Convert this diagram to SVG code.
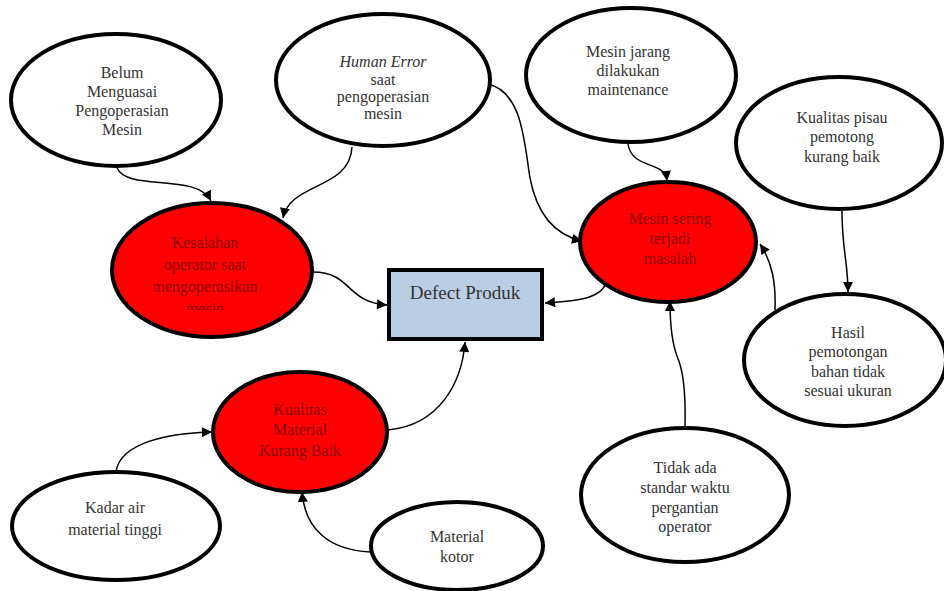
<svg xmlns="http://www.w3.org/2000/svg" width="944" height="591" viewBox="0 0 944 591">
<defs>
<marker id="arr" viewBox="0 0 10 10" refX="10" refY="5" markerWidth="11" markerHeight="10" markerUnits="userSpaceOnUse" orient="auto">
<path d="M0,0 L10,5 L0,10 z" fill="#000"/>
</marker>
<clipPath id="clipK"><rect x="100" y="190" width="230" height="120"/></clipPath>
</defs>
<style>
.n{fill:#fff;stroke:#000;stroke-width:4}
.r{fill:#ff0000;stroke:#000;stroke-width:4}
.t{font-family:"Liberation Serif","DejaVu Serif",serif;font-size:16px;fill:#333;text-anchor:middle}
.tr{font-family:"Liberation Serif","DejaVu Serif",serif;font-size:16px;fill:#8b0000;text-anchor:middle}
.c{fill:none;stroke:#000;stroke-width:1.5;marker-end:url(#arr)}
</style>
<rect width="944" height="591" fill="#fff"/>
<g id="connectors">
<path class="c" d="M117,168 C128,192 196,172 211,201"/>
<path class="c" d="M352,147 C350,190 290,182 283,218"/>
<path class="c" d="M488,84 C522,92 524,140 530,178 C538,220 560,236 582,241"/>
<path class="c" d="M628,144 C632,170 665,160 667,181"/>
<path class="c" d="M842,211 C842,250 848,262 848,292"/>
<path class="c" d="M775,310 C776,282 772,262 760,244"/>
<path class="c" d="M685,428 C686,385 682,368 677,356 C671,340 670,320 670,301"/>
<path class="c" d="M606,283 C600,300 572,301 545,303"/>
<path class="c" d="M313,272 C352,272 345,302 387,305"/>
<path class="c" d="M388,430 C440,425 462,382 465,342"/>
<path class="c" d="M116,472 C120,442 170,433 212,432"/>
<path class="c" d="M370,552 C330,550 305,530 302,492"/>
</g>
<g id="belum">
<ellipse class="n" cx="116" cy="100" rx="105" ry="66"/>
<text class="t" x="122" y="78">Belum</text>
<text class="t" x="122" y="97">Menguasai</text>
<text class="t" x="122" y="116">Pengoperasian</text>
<text class="t" x="122" y="135">Mesin</text>
</g>
<g id="human-error">
<ellipse class="n" cx="383" cy="80" rx="107" ry="66"/>
<text class="t" x="383" y="67" font-style="italic">Human Error</text>
<text class="t" x="383" y="85">saat</text>
<text class="t" x="383" y="102">pengoperasian</text>
<text class="t" x="383" y="119">mesin</text>
</g>
<g id="mesin-jarang">
<ellipse class="n" cx="631" cy="75" rx="105" ry="67"/>
<text class="t" x="628" y="57">Mesin jarang</text>
<text class="t" x="628" y="76">dilakukan</text>
<text class="t" x="628" y="95">maintenance</text>
</g>
<g id="kualitas-pisau">
<ellipse class="n" cx="839" cy="143" rx="103" ry="66"/>
<text class="t" x="842" y="123">Kualitas pisau</text>
<text class="t" x="842" y="142">pemotong</text>
<text class="t" x="842" y="162">kurang baik</text>
</g>
<g id="mesin-sering">
<ellipse class="r" cx="668" cy="242" rx="88" ry="60"/>
<text class="tr" x="670" y="224">Mesin sering</text>
<text class="tr" x="670" y="244">terjadi</text>
<text class="tr" x="670" y="264">masalah</text>
</g>
<g id="kesalahan">
<ellipse class="r" cx="212" cy="270" rx="100" ry="67"/>
<g clip-path="url(#clipK)">
<text class="tr" x="205" y="248">Kesalahan</text>
<text class="tr" x="205" y="270">operator saat</text>
<text class="tr" x="205" y="292">mengoperasikan</text>
<text class="tr" x="205" y="314">mesin</text>
</g>
</g>
<g id="defect">
<rect x="389" y="270" width="153" height="69" fill="#b9cde5" stroke="#000" stroke-width="4"/>
<text x="465" y="299" font-family="Liberation Serif, DejaVu Serif, serif" font-size="19" fill="#333" text-anchor="middle">Defect Produk</text>
</g>
<g id="kualitas-material">
<ellipse class="r" cx="300" cy="432" rx="87" ry="60"/>
<text class="tr" x="300" y="415">Kualitas</text>
<text class="tr" x="300" y="435">Material</text>
<text class="tr" x="300" y="456">Kurang Baik</text>
</g>
<g id="kadar-air">
<ellipse class="n" cx="116" cy="526" rx="104" ry="54"/>
<text class="t" x="115" y="513">Kadar air</text>
<text class="t" x="115" y="535">material tinggi</text>
</g>
<g id="material-kotor">
<ellipse class="n" cx="457" cy="546" rx="86" ry="44"/>
<text class="t" x="457" y="542">Material</text>
<text class="t" x="457" y="562">kotor</text>
</g>
<g id="hasil">
<ellipse class="n" cx="845" cy="360" rx="101" ry="66"/>
<text class="t" x="848" y="338">Hasil</text>
<text class="t" x="848" y="357">pemotongan</text>
<text class="t" x="848" y="377">bahan tidak</text>
<text class="t" x="848" y="396">sesuai ukuran</text>
</g>
<g id="tidak-ada">
<ellipse class="n" cx="685" cy="495" rx="104" ry="67"/>
<text class="t" x="685" y="473">Tidak ada</text>
<text class="t" x="685" y="493">standar waktu</text>
<text class="t" x="685" y="513">pergantian</text>
<text class="t" x="685" y="532">operator</text>
</g>
</svg>
